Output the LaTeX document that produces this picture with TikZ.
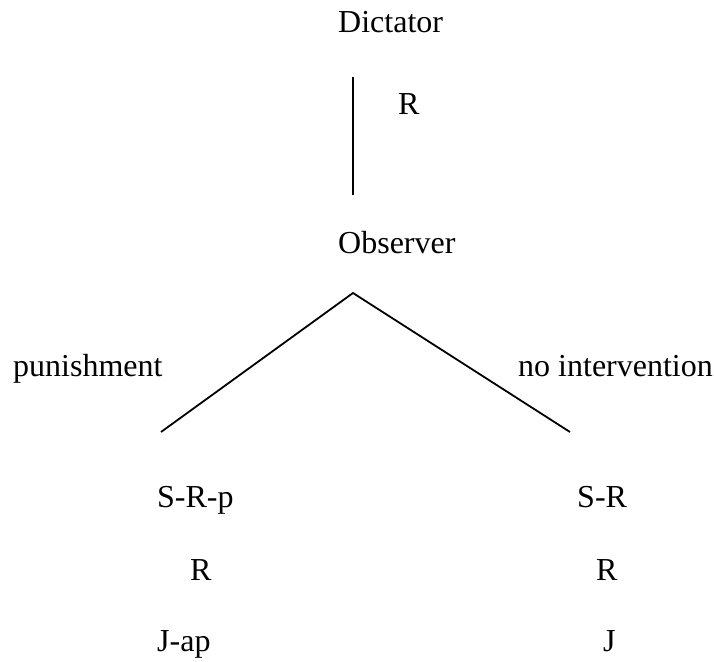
\documentclass[tikz,border=0pt]{standalone}
\usepackage{fontspec}
\setmainfont{Liberation Serif}
\begin{document}
\begin{tikzpicture}[x=1pt,y=-1pt,
  lbl/.style={inner sep=0pt, anchor=base west, font=\fontsize{32}{38}\selectfont},
  branch/.style={line width=1.8pt, line cap=butt}]
\useasboundingbox (0,0) rectangle (714,661);

% players
\node[lbl] (dictator) at (338,33) {Dictator};
\node[lbl] (observer) at (338,253) {Observer};

% dictator's move
\coordinate (dtop) at (353,77);
\coordinate (dbot) at (353,195);
\draw[branch] (dtop) -- (dbot);
\node[lbl] (move) at (398,114) {R};

% observer's choices
\coordinate (apex) at (353,293);
\coordinate (leftend) at (161,432);
\coordinate (rightend) at (570,432);
\draw[branch] (leftend) -- (apex) -- (rightend);
\node[lbl] (pun) at (13,376) {punishment};
\node[lbl] (noint) at (518,376) {no intervention};

% outcomes after punishment
\node[lbl] (srp) at (157,507) {S-R-p};
\node[lbl] (rl) at (190,580) {R};
\node[lbl] (jap) at (157,651) {J-ap};

% outcomes after no intervention
\node[lbl] (sr) at (577,507) {S-R};
\node[lbl] (rr) at (596,580) {R};
\node[lbl] (jr) at (603,651) {J};
\end{tikzpicture}
\end{document}
